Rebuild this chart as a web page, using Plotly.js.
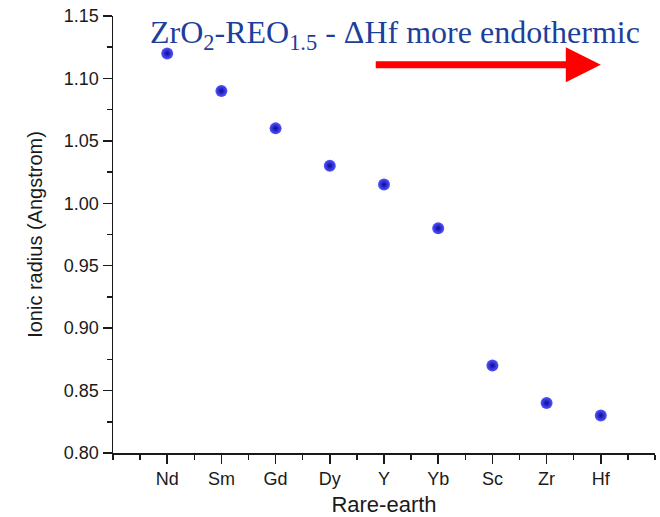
<!DOCTYPE html>
<html><head><meta charset="utf-8">
<script src="https://cdn.plot.ly/plotly-3.0.1.min.js"></script>
<style>html,body{margin:0;padding:0;background:#fff}#plot{width:660px;height:517px}</style>
</head><body><div id="plot"></div>
<script>
const categories = ['Nd','Sm','Gd','Dy','Y','Yb','Sc','Zr','Hf'];
const ionicRadius = [1.12, 1.09, 1.06, 1.03, 1.015, 0.98, 0.87, 0.84, 0.83];
const yTickVals = [0.80, 0.85, 0.90, 0.95, 1.00, 1.05, 1.10, 1.15];

const xPos = categories.map((c, i) => i + 1);
const xTickVals = xPos;
const xTickText = categories;

const trace = {
  x: xPos, y: ionicRadius, text: categories,
  type: 'scatter', mode: 'markers',
  marker: {size: 12, color: '#5555ff', gradient: {type: 'radial', color: '#0a0a9a'}, line: {width: 0}},
  hoverinfo: 'text+y'
};

const axisFont = {family: 'Liberation Sans, Arial, sans-serif', size: 18, color: '#1a1a1a'};
const layout = {
  width: 660, height: 517,
  margin: {l: 113, r: 5, t: 16, b: 64},
  paper_bgcolor: '#fff', plot_bgcolor: '#fff',
  showlegend: false,
  xaxis: {
    range: [0, categories.length + 1], tickmode: 'array', tickvals: xTickVals, ticktext: xTickText,
    showgrid: false, zeroline: false, showline: true, linecolor: '#1a1a1a', linewidth: 1.5,
    ticks: 'outside', ticklen: 9, tickwidth: 1.5, tickcolor: '#1a1a1a',
    tickfont: axisFont,
    minor: {dtick: 0.5, tick0: 0, ticks: 'outside', ticklen: 5, tickwidth: 1.5, tickcolor: '#1a1a1a', showgrid: false},
    title: {text: 'Rare-earth', font: {family: 'Liberation Sans, Arial, sans-serif', size: 22, color: '#1a1a1a'}, standoff: 10}
  },
  yaxis: {
    range: [0.80, 1.15], tickmode: 'array', tickvals: yTickVals, tickformat: '.2f',
    showgrid: false, zeroline: false, showline: true, linecolor: '#1a1a1a', linewidth: 1.5,
    ticks: 'outside', ticklen: 9, tickwidth: 1.5, tickcolor: '#1a1a1a',
    tickfont: axisFont,
    minor: {dtick: 0.025, tick0: 0.8, ticks: 'outside', ticklen: 5, tickwidth: 1.5, tickcolor: '#1a1a1a', showgrid: false},
    title: {text: 'Ionic radius (Angstrom)', font: {family: 'Liberation Sans, Arial, sans-serif', size: 20, color: '#1a1a1a'}, standoff: 16}
  },
  annotations: [
    {
      xref: 'paper', yref: 'paper', x: 0.064, y: 0.957, xanchor: 'left', yanchor: 'middle',
      text: 'ZrO<sub>2</sub>-REO<sub>1.5</sub> - ΔHf more endothermic', showarrow: false,
      font: {family: 'Liberation Serif, Times New Roman, serif', size: 32, color: '#1c3f9c'}
    },
    {
      xref: 'x', yref: 'y', axref: 'x', ayref: 'y',
      x: 9.0, y: 1.111, ax: 4.82, ay: 1.111, text: '', showarrow: true,
      arrowhead: 2, arrowsize: 1.0, arrowwidth: 7, arrowcolor: '#ff0000'
    }
  ]
};
Plotly.newPlot('plot', [trace], layout, {displayModeBar: false, staticPlot: true});
</script></body></html>
